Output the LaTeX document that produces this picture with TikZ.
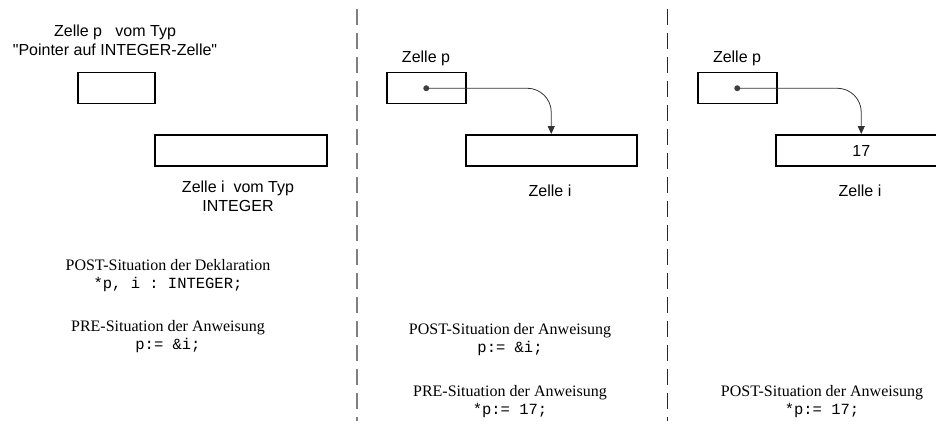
\documentclass[tikz,border=0pt]{standalone}
\usepackage{fontspec}
\setmainfont{Liberation Serif}
\setsansfont{Liberation Sans}
\setmonofont{Liberation Mono}
\usetikzlibrary{arrows.meta}
\begin{document}
\begin{tikzpicture}[x=1pt,y=-1pt,
 cell/.style={draw, line width=1.5pt, inner sep=0, minimum height=31pt, anchor=north west},
 lbl/.style={font=\fontsize{16}{18}\selectfont\sffamily, anchor=base, inner sep=0},
 captxt/.style={font=\fontsize{16}{18}\selectfont\rmfamily, anchor=base, inner sep=0},
 code/.style={font=\fontsize{15.5}{18}\selectfont\ttfamily, anchor=base, inner sep=0},
 sepA/.style={line width=1.6pt, draw=black!50, dash pattern=on 16pt off 8pt},
 sepB/.style={line width=1pt, draw=black!85, dash pattern=on 16pt off 8pt},
 ptr/.style={line width=0.8pt, draw=black!80, -{Triangle[length=8pt,width=7pt]}, rounded corners=24pt},
 dot/.style={circle, fill=black!75, inner sep=0, minimum size=6pt}
]
\useasboundingbox (0,0) rectangle (936,425);

% separators
\coordinate (s1a) at (357,9);
\coordinate (s1b) at (357,421);
\coordinate (s2a) at (667,9);
\coordinate (s2b) at (667,421);
\draw[sepA] (s1a) -- (s1b);
\draw[sepB] (s2a) -- (s2b);

% ---------- panel 1 ----------
\node[lbl] (t1a) at (115,37) {Zelle p\ \ \ vom Typ};
\node[lbl] (t1b) at (115,56) {\textquotedbl Pointer auf INTEGER-Zelle\textquotedbl};
\node[cell, minimum width=77pt] (p1) at (77,72) {};
\node[cell, minimum width=172pt] (i1) at (154,134) {};
\node[lbl] (t1c) at (238,192) {Zelle i\ \ vom Typ};
\node[lbl] (t1d) at (238,211) {INTEGER};
\node[captxt] (c1a) at (168,270) {POST-Situation der Deklaration};
\node[code] (c1b) at (168,288) {*p, i : INTEGER;};
\node[captxt] (c1c) at (168,331) {PRE-Situation der Anweisung};
\node[code] (c1d) at (168,349) {p:= \&i;};

% ---------- panel 2 ----------
\node[lbl] (t2a) at (426,63) {Zelle p};
\node[cell, minimum width=79pt] (p2) at (386,72) {};
\node[cell, minimum width=171pt] (i2) at (465,134) {};
\node[dot] (d2) at (p2.center) {};
\draw[ptr] (d2.center) -| (i2.north);
\node[lbl] (t2b) at (550,196) {Zelle i};
\node[captxt] (c2a) at (510,334) {POST-Situation der Anweisung};
\node[code] (c2b) at (510,352) {p:= \&i;};
\node[captxt] (c2c) at (510,396) {PRE-Situation der Anweisung};
\node[code] (c2d) at (510,414) {*p:= 17;};

% ---------- panel 3 ----------
\node[lbl] (t3a) at (737,63) {Zelle p};
\node[cell, minimum width=79pt] (p3) at (697,72) {};
\node[cell, minimum width=171pt] (i3) at (775,134) {};
\node[lbl] (v3) at (i3.center) [yshift=-6pt] {17};
\node[dot] (d3) at (p3.center) {};
\draw[ptr] (d3.center) -| (i3.north);
\node[lbl] (t3b) at (860,196) {Zelle i};
\node[captxt] (c3a) at (822,396) {POST-Situation der Anweisung};
\node[code] (c3b) at (822,414) {*p:= 17;};
\end{tikzpicture}
\end{document}
